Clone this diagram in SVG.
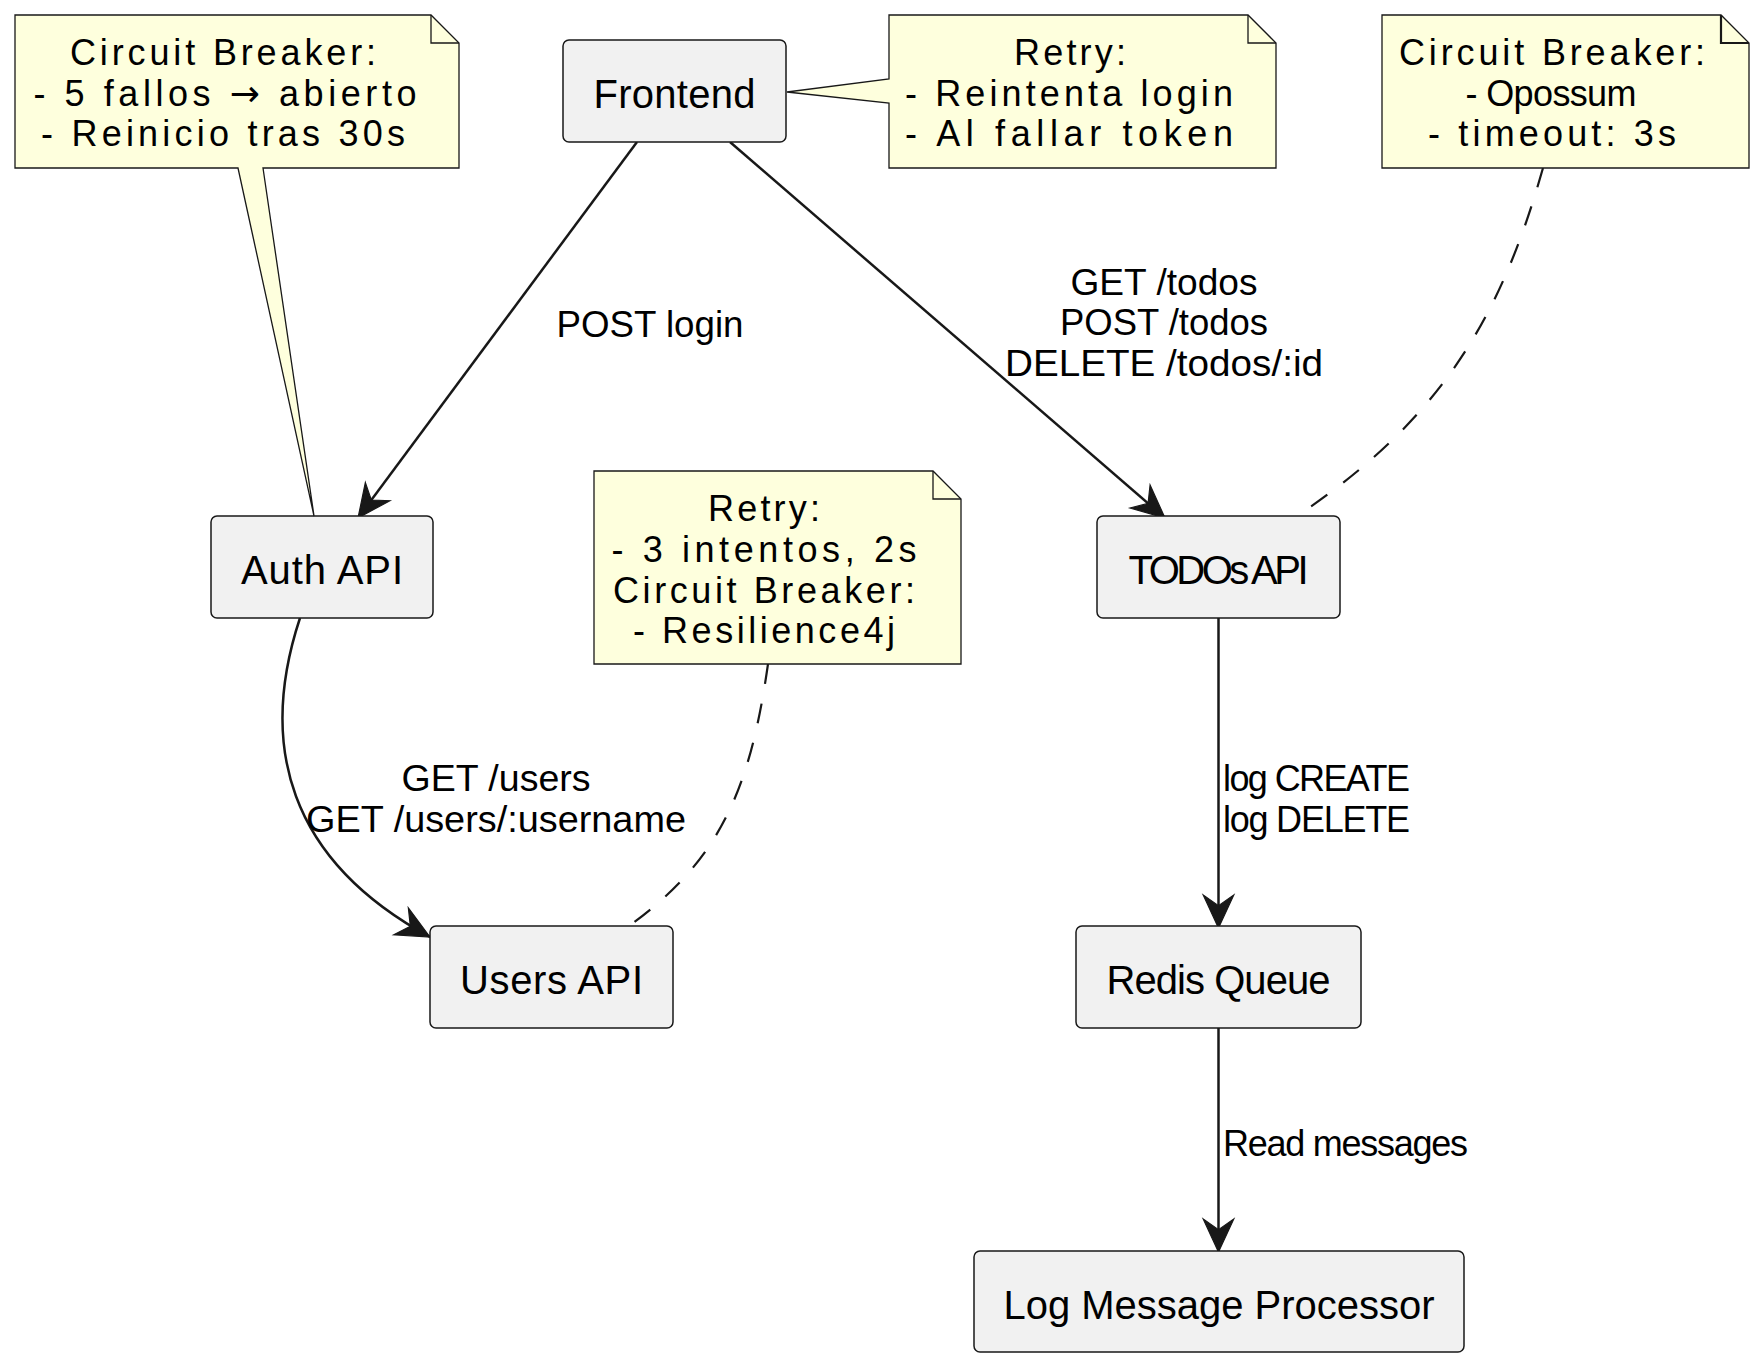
<svg xmlns="http://www.w3.org/2000/svg" width="1756" height="1356" viewBox="0 0 1756 1356">
  <style>
    .node rect { fill: #F1F1F1; stroke: #181818; stroke-width: 1.5; }
    .note path.body { fill: #FEFFDD; stroke: #181818; stroke-width: 1.3; }
    .note path.fold { fill: none; stroke: #181818; stroke-width: 1.3; }
    text { font-family: "Liberation Sans", Arial, sans-serif; fill: #000000; }
    .nl { font-size: 40px; text-anchor: middle; }
    .el { font-size: 36px; }
    .elm { text-anchor: middle; }
    .nt { font-size: 36px; text-anchor: middle; }
    .arr { font-family: "DejaVu Sans", sans-serif; }
    .edge { fill: none; stroke: #181818; stroke-width: 2.5; }
    .dash { fill: none; stroke: #181818; stroke-width: 2.2; stroke-dasharray: 20 20; }
  </style>
  <defs>
    <marker id="arrow" markerUnits="userSpaceOnUse" markerWidth="40" markerHeight="40" viewBox="-32 -16 34 32" refX="0" refY="0" orient="auto">
      <path d="M0,0 L-28,-13 L-19,0 L-28,13 Z" fill="#181818" stroke="#181818" stroke-width="1"/>
    </marker>
  </defs>
  <rect width="1756" height="1356" fill="#FFFFFF"/>

  <g id="connectors">
    <path class="edge" d="M637,142 L358,518" marker-end="url(#arrow)"/>
    <path class="edge" d="M730,142 L1165,518" marker-end="url(#arrow)"/>
    <path class="edge" d="M300,618 C258,745 288,860 430,937" marker-end="url(#arrow)"/>
    <path class="edge" d="M1218.5,618 L1218.5,928" marker-end="url(#arrow)"/>
    <path class="edge" d="M1218.5,1028 L1218.5,1252" marker-end="url(#arrow)"/>
    <path class="dash" d="M1543,168 C1500,320 1440,420 1297,516"/>
    <path class="dash" d="M768,664 C750,790 720,860 629,926"/>
    <text class="el elm" x="650" y="337" textLength="187" lengthAdjust="spacingAndGlyphs">POST login</text>
    <text class="el elm" x="1164" y="295" textLength="187" lengthAdjust="spacingAndGlyphs">GET /todos</text>
    <text class="el elm" x="1164" y="335" textLength="208" lengthAdjust="spacingAndGlyphs">POST /todos</text>
    <text class="el elm" x="1164" y="376" textLength="318" lengthAdjust="spacingAndGlyphs">DELETE /todos/:id</text>
    <text class="el elm" x="496" y="791" textLength="189" lengthAdjust="spacingAndGlyphs">GET /users</text>
    <text class="el elm" x="496" y="832" textLength="380" lengthAdjust="spacingAndGlyphs">GET /users/:username</text>
    <text class="el" x="1223" y="791" textLength="187" lengthAdjust="spacing">log CREATE</text>
    <text class="el" x="1223" y="832" textLength="187" lengthAdjust="spacing">log DELETE</text>
    <text class="el" x="1223" y="1156" textLength="245" lengthAdjust="spacing">Read messages</text>
  </g>

  <g id="frontend" class="node">
    <rect x="563" y="40" width="223" height="102" rx="6" ry="6"/>
    <text class="nl" x="674.5" y="108" textLength="162" lengthAdjust="spacing">Frontend</text>
  </g>
  <g id="auth-api" class="node">
    <rect x="211" y="516" width="222" height="102" rx="6" ry="6"/>
    <text class="nl" x="322" y="584" textLength="162" lengthAdjust="spacing">Auth API</text>
  </g>
  <g id="todos-api" class="node">
    <rect x="1097" y="516" width="243" height="102" rx="6" ry="6"/>
    <text class="nl" x="1218.5" y="584" textLength="180" lengthAdjust="spacing">TODOs API</text>
  </g>
  <g id="users-api" class="node">
    <rect x="430" y="926" width="243" height="102" rx="6" ry="6"/>
    <text class="nl" x="551.5" y="994" textLength="183" lengthAdjust="spacing">Users API</text>
  </g>
  <g id="redis-queue" class="node">
    <rect x="1076" y="926" width="285" height="102" rx="6" ry="6"/>
    <text class="nl" x="1218.5" y="994" textLength="224" lengthAdjust="spacing">Redis Queue</text>
  </g>
  <g id="log-processor" class="node">
    <rect x="974" y="1251" width="490" height="101" rx="6" ry="6"/>
    <text class="nl" x="1219" y="1319" textLength="431" lengthAdjust="spacing">Log Message Processor</text>
  </g>

  <g id="note-auth-cb" class="note">
    <path class="body" d="M15,15 L431,15 L459,43 L459,168 L263,168 L314,516 L238,168 L15,168 Z"/>
    <path class="fold" d="M431,15 L431,43 L459,43"/>
    <text class="nt" x="223" y="65" textLength="306" lengthAdjust="spacing">Circuit Breaker:</text>
    <text class="nt" x="225" y="105.5" textLength="383" lengthAdjust="spacing">- 5 fallos <tspan class="arr">→</tspan> abierto</text>
    <text class="nt" x="223" y="146" textLength="364" lengthAdjust="spacing">- Reinicio tras 30s</text>
  </g>
  <g id="note-frontend-retry" class="note">
    <path class="body" d="M889,15 L1248,15 L1276,43 L1276,168 L889,168 L889,103 L787,92 L889,79 Z"/>
    <path class="fold" d="M1248,15 L1248,43 L1276,43"/>
    <text class="nt" x="1070" y="65" textLength="112" lengthAdjust="spacing">Retry:</text>
    <text class="nt" x="1069" y="105.5" textLength="328" lengthAdjust="spacing">- Reintenta login</text>
    <text class="nt" x="1069" y="146" textLength="328" lengthAdjust="spacing">- Al fallar token</text>
  </g>
  <g id="note-todos-cb" class="note">
    <path class="body" d="M1382,15 L1721,15 L1749,43 L1749,168 L1382,168 Z"/>
    <path class="fold" d="M1721,15 L1721,43 L1749,43" style="stroke-width:2.2"/>
    <text class="nt" x="1552" y="65" textLength="306" lengthAdjust="spacing">Circuit Breaker:</text>
    <text class="nt" x="1551" y="105.5" textLength="171" lengthAdjust="spacing">- Opossum</text>
    <text class="nt" x="1552" y="146" textLength="248" lengthAdjust="spacing">- timeout: 3s</text>
  </g>
  <g id="note-users-retry" class="note">
    <path class="body" d="M594,471 L933,471 L961,499 L961,664 L594,664 Z"/>
    <path class="fold" d="M933,471 L933,499 L961,499"/>
    <text class="nt" x="764" y="521" textLength="112" lengthAdjust="spacing">Retry:</text>
    <text class="nt" x="764" y="562" textLength="305" lengthAdjust="spacing">- 3 intentos, 2s</text>
    <text class="nt" x="764" y="603" textLength="302" lengthAdjust="spacing">Circuit Breaker:</text>
    <text class="nt" x="764" y="643" textLength="262" lengthAdjust="spacing">- Resilience4j</text>
  </g>
</svg>
